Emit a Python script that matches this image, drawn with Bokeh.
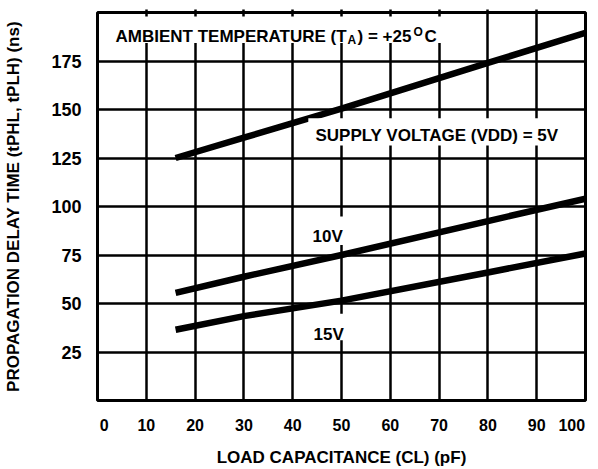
from bokeh.plotting import figure
from bokeh.models import (Label, BoxAnnotation, LinearAxis, FixedTicker, Range1d,
                          CustomJSTickFormatter)
from bokeh.embed import file_html
from bokeh.resources import INLINE

# ---- data ----
x_ticks = [0, 10, 20, 30, 40, 50, 60, 70, 80, 90, 100]
y_ticks = [25, 50, 75, 100, 125, 150, 175]
load_cap = [16, 30, 50, 80, 100]          # pF
delay_5v = [125, 135.5, 150.5, 174, 189.5]   # ns
delay_10v = [55.5, 63.8, 75, 92.5, 104]
delay_15v = [36.5, 43.5, 51.5, 66, 75.8]

FONT = "Liberation Sans"
NB = "\u00a0"

p = figure(width=598, height=469, x_range=Range1d(0, 100), y_range=Range1d(0, 200),
           output_backend="svg", toolbar_location=None, title=None,
           min_border_left=97, min_border_right=13, min_border_top=12, min_border_bottom=63)
p.background_fill_color = "white"
p.border_fill_color = "white"
p.outline_line_color = "black"
p.outline_line_width = 3
p.outline_line_alpha = 1

p.xaxis.ticker = FixedTicker(ticks=x_ticks)
p.yaxis.ticker = FixedTicker(ticks=y_ticks)
p.xgrid.ticker = FixedTicker(ticks=x_ticks)
p.ygrid.ticker = FixedTicker(ticks=y_ticks)
p.grid.grid_line_color = "black"
p.grid.grid_line_width = 2.5
p.grid.grid_line_alpha = 1

for ax in (p.xaxis[0], p.yaxis[0]):
    ax.axis_line_color = None
    ax.major_tick_line_color = None
    ax.minor_tick_line_color = None
    ax.major_label_text_font = FONT
    ax.major_label_text_font_style = "bold"
    ax.major_label_text_color = "black"
    ax.axis_label_text_font = FONT
    ax.axis_label_text_font_style = "bold"
    ax.axis_label_text_color = "black"
    ax.axis_label_text_font_size = "17px"

p.xaxis.major_label_text_font_size = "16px"
p.yaxis.major_label_text_font_size = "18px"
p.xaxis.major_label_standoff = 10
p.yaxis.major_label_standoff = 10
p.xaxis.major_label_overrides = {0: NB * 3 + "0", 100: "100" + NB * 3}
p.xaxis.axis_label = "LOAD CAPACITANCE (CL) (pF)"
p.yaxis.axis_label = "PROPAGATION DELAY TIME (tPHL, tPLH) (ns)"
p.xaxis.axis_label_standoff = 11
p.yaxis.axis_label_standoff = 25

top = LinearAxis(ticker=FixedTicker(ticks=x_ticks[1:-1]),
                 formatter=CustomJSTickFormatter(code="return ''"),
                 axis_line_color=None, major_tick_in=0, major_tick_out=3,
                 major_tick_line_width=2.5, major_tick_line_color="black",
                 minor_tick_line_color=None, major_label_standoff=0)
p.add_layout(top, "above")

# ---- curves ----
for ys in (delay_5v, delay_10v, delay_15v):
    p.line(load_cap, ys, line_width=6.5, line_color="black")

# ---- white boxes behind labels ----
for (l, r, b, t) in [(1.6, 72.3, 184.3, 198.0),
                     (43.2, 98.6, 131.5, 145.5),
                     (42.6, 51.4, 80.2, 94.9),
                     (42.8, 51.8, 31.0, 44.7)]:
    p.add_layout(BoxAnnotation(left=l, right=r, bottom=b, top=t,
                               fill_color="white", fill_alpha=1, line_color=None))

def lab(x, y, text, size="17px", xo=0, yo=0):
    p.add_layout(Label(x=x, y=y, x_offset=xo, y_offset=yo, text=text,
                       text_font=FONT, text_font_style="bold", text_font_size=size,
                       text_color="black", text_baseline="alphabetic", text_align="left"))

# ambient temperature label with subscript / superscript
ax0, ay0 = 3.69, 187.8
lab(ax0, ay0, "AMBIENT TEMPERATURE (T")
lab(ax0, ay0, "A", size="12px", xo=232, yo=-3.5)
lab(ax0, ay0, ") = +25", xo=242)
lab(ax0, ay0, "O", size="12px", xo=298, yo=4.3)
lab(ax0, ay0, "C", xo=309)

lab(44.67, 136.4, "SUPPLY VOLTAGE (VDD) = 5V")
lab(44.06, 84.6, "10V")
lab(44.26, 33.9, "15V")

open("out.html", "w").write(file_html(p, INLINE))
